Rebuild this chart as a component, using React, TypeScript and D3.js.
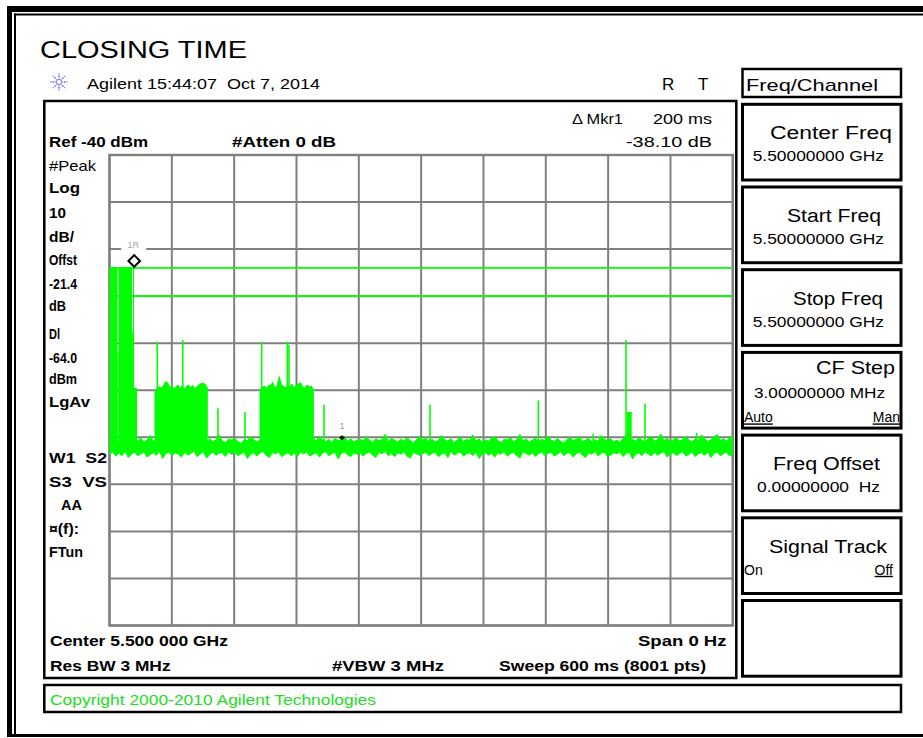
import React from "react";
import * as d3 from "d3";

// ---------- data ----------
const SWEEP_MS = 600;
const REF_DBM = -40;
const DB_PER_DIV = 10;
const DIVS = 10;
const FLOOR_DBM = -102.6;

const displayLines = [-64.0, -70.0];

const noiseHi = [
  -100.6,-100.9,-100.3,-101.1,-100.5,-99.8,-100.8,-101.2,-100.4,-100.7,-100.2,-101.0,-100.6,-99.6,-100.9,-100.4,-101.3,-100.7,-100.3,-100.8,
  -101.1,-100.5,-100.2,-100.9,-99.7,-100.6,-101.2,-100.4,-100.8,-100.1,-100.7,-101.0,-100.3,-100.9,-100.5,-99.5,-100.8,-101.1,-100.4,-100.6,
  -100.2,-100.9,-101.3,-100.5,-100.7,-99.9,-100.4,-101.0,-100.6,-100.3,-100.9,-100.1,-100.7,-101.2,-100.5,-100.8,-99.6,-100.4,-100.9,-100.6,
  -101.0,-100.3,-100.7,-100.5,-101.2,-100.1,-100.8,-99.8,-100.6,-100.9,-100.4,-101.1,-100.2,-100.7,-100.5,-99.7,-100.9,-100.3,-101.0,-100.6,
  -100.4,-100.8,-99.9,-100.6,-101.1,-100.3,-100.7,-100.5,-99.4,-100.9,-100.2,-100.6,-101.0,-100.4,-100.8,-100.1,-100.7,-101.2,-100.5,-99.8,
  -100.6,-100.2,-100.9,-100.4,-101.0,-100.7,-99.6,-100.5,-100.8,-100.3,-101.1,-100.6,-100.0,-100.9,-100.4,-100.7,-99.5,-100.8,-100.3,-101.0,
  -100.5,-100.8,-100.2,-99.9,-100.7,-101.1,-100.4,-100.6,-100.1,-100.9,-100.5,-99.4,-100.8,-100.3,-101.0,-100.6,-100.2,-100.9,-100.4,-100.7,
  -99.7,-100.6,-100.9,-100.3,-100.8,-101.2,-100.5,-100.0,-100.7,-100.4,-99.8,-100.9,-100.6,-100.2,-101.0,-100.5,-100.8,-99.6,-100.4,-100.7,
  -100.3,-100.9,-100.6,-101.1,-100.2,-99.5,-100.7,-100.4,-100.8,-100.1,-100.6,-101.0,-100.3,-99.9,-100.8,-100.5,-99.3,-100.7,-100.2,-100.9,
  -100.5,-100.1,-100.8,-100.4,-99.8,-100.6,-101.0,-100.3,-100.7,-99.5,-100.2,-100.9,-100.5,-100.0,-99.4,-100.7,-100.3,-100.8,-100.1,-99.6,
];

const noiseLo = [
  -103.7,-103.1,-104.0,-103.4,-103.9,-103.0,-104.3,-103.6,-103.2,-103.9,-103.5,-103.1,-104.2,-103.7,-103.3,-103.8,-103.0,-104.5,-103.4,-103.2,
  -103.9,-103.3,-103.6,-104.2,-103.1,-103.8,-103.4,-103.0,-104.1,-103.5,-103.2,-104.4,-103.7,-103.1,-103.8,-103.4,-103.3,-104.1,-103.0,-103.7,
  -103.2,-103.9,-103.5,-103.1,-104.5,-103.6,-103.3,-104.0,-103.4,-103.0,-103.8,-104.3,-103.2,-103.5,-103.1,-104.1,-103.6,-103.3,-103.9,-103.4,
  -104.1,-103.2,-103.5,-103.1,-104.0,-103.6,-103.3,-104.2,-103.4,-103.0,-103.9,-103.5,-103.2,-104.6,-103.4,-103.1,-103.7,-104.1,-103.3,-103.6,
  -103.3,-104.0,-103.4,-103.1,-103.8,-104.3,-103.2,-103.5,-103.0,-103.9,-103.4,-104.1,-103.3,-103.6,-103.1,-104.0,-104.4,-103.2,-103.5,-103.8,
  -103.5,-103.1,-103.9,-103.4,-103.2,-104.1,-103.6,-103.3,-104.3,-103.0,-103.8,-103.4,-103.1,-104.0,-103.5,-103.3,-103.9,-103.1,-104.5,-103.6,
  -103.2,-103.8,-103.4,-104.2,-103.3,-103.6,-103.0,-104.0,-103.5,-103.2,-103.9,-104.4,-103.1,-103.4,-103.8,-103.3,-104.1,-103.5,-103.1,-103.9,
  -103.4,-103.2,-104.0,-103.6,-103.0,-103.9,-103.4,-103.3,-104.2,-103.5,-103.1,-103.8,-104.3,-103.3,-103.6,-103.0,-104.0,-103.4,-103.2,-104.1,
  -103.8,-103.3,-103.5,-103.1,-104.1,-103.4,-103.2,-104.6,-103.6,-103.3,-103.9,-103.1,-103.5,-104.0,-103.2,-103.8,-103.4,-103.0,-104.2,-103.5,
  -103.3,-103.9,-103.4,-103.1,-104.0,-103.6,-103.2,-104.1,-103.5,-103.3,-103.8,-103.1,-104.3,-103.4,-103.2,-103.9,-103.5,-103.1,-104.0,-103.6,
];

// [start ms, end ms, top dBm]
const blockSegs: [number, number, number][] = [
  [0, 7.7, -64.0],
  [7.7, 8.7, -81.9],
  [8.7, 21.7, -64.0],
  [21.7, 22.6, -77.6],
  [22.6, 23.6, -64.0],
  [23.6, 26.5, -89.5],
  [497.9, 502.7, -94.6],
];

const burstARange = [43.8, 94.1];
const burstATops = [
  -90.3, -89.6, -89.2, -89.5, -89.1, -88.2, -88.3, -89.4, -89.0, -89.7, -89.3, -88.9, -89.5,
  -89.1, -89.8, -89.2, -88.9, -89.4, -89.0, -89.6, -89.3, -88.8, -88.6, -88.5, -88.7, -89.4,
];
const burstBRange = [144.9, 196.2];
const burstBTops = [
  -90.0, -89.4, -89.1, -89.6, -89.0, -88.9, -88.3, -89.5, -89.0, -87.1, -88.8, -89.2, -89.4,
  -88.9, -89.3, -88.7, -89.4, -89.0, -88.6, -88.4, -89.2, -89.6, -88.9, -89.3, -89.1, -89.8,
];

// [ms, peak dBm]
const spikes: [number, number][] = [
  [46.0, -79.7], [70.5, -79.3], [104.4, -93.8], [130.4, -94.6], [146.5, -79.7],
  [171.2, -79.7], [172.8, -80.4], [206.5, -93.1], [308.5, -93.1], [412.8, -92.2],
  [465.7, -99.2], [497.2, -79.3], [515.5, -92.8], [565.2, -99.1],
];

const markerRef = { label: "1R", t: 23.8, dbm: -64.0 };
const markerDelta = { label: "1", t: 223.8, dbm: -100.5 };

const leftLabels = ["#Peak", "Log", "10", "dB/", "Offst", "-21.4", "dB", "Dl", "-64.0", "dBm", "LgAv", "W1  S2", "S3  VS", "AA", "\u00a4(f):", "FTun"];

const softkeys = [
  { title: "Center Freq", value: "5.50000000 GHz" },
  { title: "Start Freq", value: "5.50000000 GHz" },
  { title: "Stop Freq", value: "5.50000000 GHz" },
  { title: "CF Step", value: "3.00000000 MHz", opts: ["Auto", "Man"] },
  { title: "Freq Offset", value: "0.00000000  Hz" },
  { title: "Signal Track", opts: ["On", "Off"] },
  { title: "" },
];

const FONT = "'Liberation Sans', Arial, Helvetica, sans-serif";
const GREEN = "#00ff00";

type TP = {
  x: number; y: number; s: number; w?: number; b?: boolean; a?: "start" | "middle" | "end";
  fill?: string; u?: boolean; children: React.ReactNode;
};
function T({ x, y, s, w, b, a, fill, u, children }: TP) {
  return (
    <text
      x={x} y={y} fontSize={s} fontFamily={FONT} fontWeight={b ? "bold" : "normal"}
      textAnchor={a || "start"} fill={fill || "#000"}
      textLength={w} lengthAdjust={w ? "spacingAndGlyphs" : undefined}
      textDecoration={u ? "underline" : undefined}
      style={{ whiteSpace: "pre" }}
    >
      {children}
    </text>
  );
}

export default function App() {
  const PX0 = 109.5, PX1 = 732.8, PY0 = 155, PY1 = 625.5;
  const x = d3.scaleLinear().domain([0, SWEEP_MS]).range([PX0, PX1]);
  const y = d3.scaleLinear().domain([REF_DBM, REF_DBM - DB_PER_DIV * DIVS]).range([PY0, PY1]);

  const nN = noiseHi.length;
  const tN = (i: number) => (i * SWEEP_MS) / (nN - 1);
  const noisePath = d3.area<number>()
    .x((_, i) => x(tN(i)))
    .y0((_, i) => y(noiseLo[i]))
    .y1((d) => y(d))(noiseHi) || "";
  const hiPath = d3.line<number>().x((_, i) => x(tN(i))).y((d) => y(d))(noiseHi) || "";
  const loPath = d3.line<number>().x((_, i) => x(tN(i))).y((d) => y(d))(noiseLo) || "";

  const burst = (tops: number[], r: number[]) =>
    d3.area<number>()
      .x((_, i) => x(r[0] + (i * (r[1] - r[0])) / (tops.length - 1)))
      .y0(y(FLOOR_DBM))
      .y1((d) => y(d))(tops) || "";

  const gridX = d3.range(DIVS + 1).map((i) => x((i * SWEEP_MS) / DIVS));
  const gridY = d3.range(DIVS + 1).map((i) => y(REF_DBM - i * DB_PER_DIV));

  const leftY = [170.5, 193, 217.7, 241.5, 265, 289.3, 310.7, 339.3, 362.7, 384, 407.3, 463.3, 486.8, 510.3, 533.8, 557.3];
  const leftW = [47, 31, 17, 25, 28, 28, 17, 11, 28, 28, 41, 58, 58, 21, 30, 34];
  const leftX = [49, 49, 49, 49, 49, 49, 49, 49, 49, 49, 49, 49, 49, 61, 49, 49];

  const mx = x(markerRef.t), my = y(markerRef.dbm) - 7;
  const dx = x(markerDelta.t), dy = y(markerDelta.dbm) - 2;

  const keyTop = 104.3, keyPitch = 82.7, keyH = 75.7, keyX = 742.5, keyW = 158.5;
  const keyTitleX = [[770, 892], [787, 881], [793, 883], [816, 895], [773, 880], [769, 887]];
  const keyValX = [[752.7, 884], [752.7, 884], [752.7, 884], [754, 885], [757, 880]];

  const spoke = d3.range(8).map((i) => (i * Math.PI) / 4);

  return (
    <svg width={923} height={738} style={{ position: "absolute", left: 0, top: 0, display: "block" }}>
      <rect x={0} y={0} width={923} height={738} fill="#fff" />
      {/* outer frame */}
      <rect x={7} y={6} width={916} height={6} fill="#000" />
      <rect x={7} y={6} width={5} height={731} fill="#000" />
      <rect x={14} y={13.5} width={909} height={2} fill="#000" />
      <rect x={14} y={13.5} width={2} height={721} fill="#000" />
      <rect x={7} y={734} width={916} height={3} fill="#000" />

      <T x={40} y={58} s={23} w={207}>CLOSING TIME</T>
      <g stroke="#5a5aff" strokeWidth={1.4} strokeDasharray="1.6,1.2">
        {spoke.map((a, i) => (
          <line key={i} x1={59 + Math.cos(a) * 2} y1={82 + Math.sin(a) * 2} x2={59 + Math.cos(a) * 8.5} y2={82 + Math.sin(a) * 8.5} />
        ))}
      </g>
      <T x={87} y={89} s={15} w={233}>Agilent 15:44:07  Oct 7, 2014</T>
      <T x={662} y={90} s={17}>R</T>
      <T x={698} y={90} s={17}>T</T>

      {/* main box */}
      <rect x={44.3} y={101} width={692} height={577} fill="none" stroke="#000" strokeWidth={2.5} />
      <T x={572} y={124} s={14} w={51}>{"\u0394 Mkr1"}</T>
      <T x={712} y={124} s={14} a="end" w={59}>200 ms</T>
      <T x={49} y={147} s={15} b w={99}>Ref -40 dBm</T>
      <T x={232} y={147} s={15} b w={104}>#Atten 0 dB</T>
      <T x={712} y={147} s={14} a="end" w={86}>-38.10 dB</T>

      {leftLabels.map((l, i) => (
        <T key={i} x={leftX[i]} y={leftY[i]} s={15} b={i !== 0} w={leftW[i]}>{l}</T>
      ))}

      {/* grid */}
      <g stroke="#808080" strokeWidth={2}>
        {gridX.map((gx, i) => <line key={"x" + i} x1={gx} x2={gx} y1={PY0} y2={PY1} />)}
        {gridY.map((gy, i) => <line key={"y" + i} x1={PX0} x2={PX1} y1={gy} y2={gy} />)}
      </g>
      <rect x={PX0} y={PY0} width={PX1 - PX0} height={PY1 - PY0} fill="none" stroke="#808080" strokeWidth={2.4} />

      {/* marker labels */}
      <rect x={mx - 13} y={240} width={25} height={11} fill="#fff" />
      <text x={mx - 1} y={248} fontSize={9} fontFamily={FONT} fill="#a8a8a8" textAnchor="middle">{markerRef.label}</text>

      <defs>
        <clipPath id="plotclip">
          <rect x={PX0 - 1} y={PY0} width={PX1 - PX0 + 4} height={PY1 - PY0} />
        </clipPath>
      </defs>
      <g clipPath="url(#plotclip)">
        {displayLines.map((d, i) => (
          <line key={i} x1={PX0} x2={PX1} y1={y(d)} y2={y(d)} stroke={GREEN} strokeWidth={1.6} />
        ))}
        <path d={noisePath} fill={GREEN} />
        <path d={hiPath} fill="none" stroke={GREEN} strokeWidth={1} />
        <path d={loPath} fill="none" stroke={GREEN} strokeWidth={1} />
        <path d={burst(burstATops, burstARange)} fill={GREEN} stroke={GREEN} strokeWidth={1} />
        <path d={burst(burstBTops, burstBRange)} fill={GREEN} stroke={GREEN} strokeWidth={1} />
        {blockSegs.map(([t0, t1, top], i) => (
          <rect key={i} x={x(t0)} y={y(top)} width={x(t1) - x(t0)} height={y(FLOOR_DBM) - y(top)} fill={GREEN} />
        ))}
        {spikes.map(([t, p], i) => (
          <line key={i} x1={x(t)} x2={x(t)} y1={y(-101)} y2={y(p)} stroke={GREEN} strokeWidth={1.6} />
        ))}
      </g>

      <path d={`M${mx},${my - 5.8}L${mx + 5.8},${my}L${mx},${my + 5.8}L${mx - 5.8},${my}Z`} fill="#fff" stroke="#000" strokeWidth={2} />
      <text x={dx} y={dy - 9} fontSize={9} fontFamily={FONT} fill="#999" textAnchor="middle">{markerDelta.label}</text>
      <path d={`M${dx},${dy - 2.5}L${dx + 3},${dy}L${dx},${dy + 2.5}L${dx - 3},${dy}Z`} fill="#000" />

      <T x={50} y={646} s={15} b w={178}>Center 5.500 000 GHz</T>
      <T x={726.5} y={646} s={15} b a="end" w={88.5}>Span 0 Hz</T>
      <T x={50} y={671} s={15} b w={120.6}>Res BW 3 MHz</T>
      <T x={332} y={671} s={15} b w={112}>#VBW 3 MHz</T>
      <T x={499} y={671} s={15} b w={207}>Sweep 600 ms (8001 pts)</T>

      {/* copyright */}
      <rect x={44.3} y={685} width={856.7} height={27} fill="none" stroke="#000" strokeWidth={2.5} />
      <T x={50} y={705} s={15} w={326} fill="#22dd22">Copyright 2000-2010 Agilent Technologies</T>

      {/* right panel */}
      <rect x={keyX} y={69} width={keyW} height={28} fill="none" stroke="#000" strokeWidth={2.5} />
      <T x={746} y={91} s={17} w={132}>Freq/Channel</T>
      {softkeys.map((k, i) => {
        const top = keyTop + i * keyPitch;
        const isCF = k.title === "CF Step";
        return (
          <g key={i}>
            <rect x={keyX} y={top} width={keyW} height={keyH} fill="none" stroke="#000" strokeWidth={3} />
            {k.title && (
              <T x={keyTitleX[i][1]} y={top + (isCF ? 22 : 35)} s={18} a="end" w={keyTitleX[i][1] - keyTitleX[i][0]}>{k.title}</T>
            )}
            {k.value && (
              <T x={keyValX[i][0]} y={top + (isCF ? 46 : 57)} s={14} w={keyValX[i][1] - keyValX[i][0]}>{k.value}</T>
            )}
            {k.opts && (
              <>
                <T x={744} y={top + (isCF ? 70 : 57)} s={14} u={k.opts[0] === "Auto"}>{k.opts[0]}</T>
                <T x={isCF ? 900 : 893} y={top + (isCF ? 70 : 57)} s={14} a="end" u>{k.opts[1]}</T>
              </>
            )}
          </g>
        );
      })}
    </svg>
  );
}
